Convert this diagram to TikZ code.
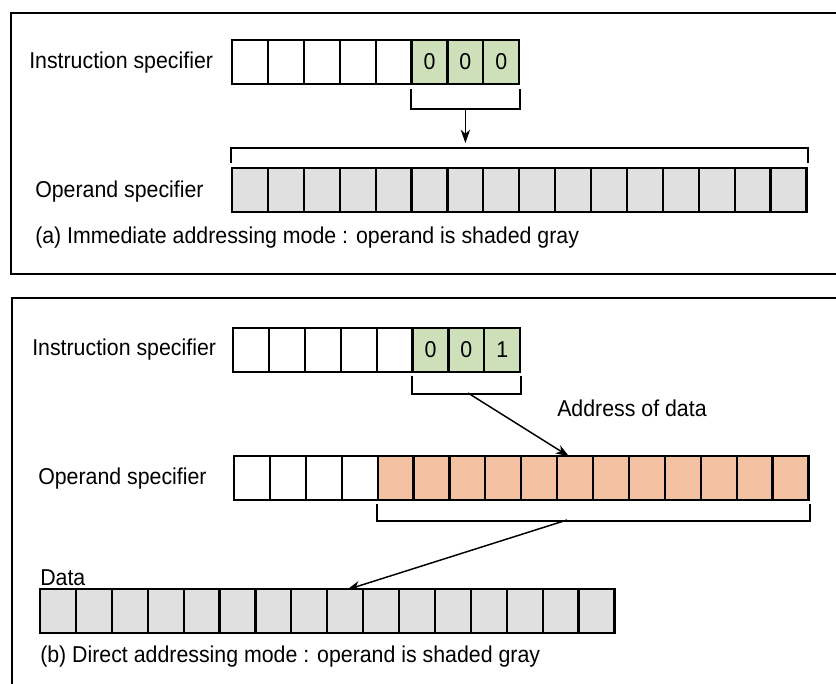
\documentclass[tikz,border=0pt]{standalone}
\usepackage{fontspec}
\setmainfont{Liberation Sans}[FakeStretch=0.93]
\usetikzlibrary{backgrounds,arrows.meta}
\pgfdeclarelayer{edgelayer}
\pgfdeclarelayer{nodelayer}
\pgfsetlayers{edgelayer,nodelayer,main}
\definecolor{bitgreen}{RGB}{206,224,186}
\definecolor{bitorange}{RGB}{243,194,162}
\definecolor{bitgray}{RGB}{224,224,224}
\tikzset{font=\fontsize{17.2}{20}\selectfont}
\tikzstyle{none}=[inner sep=0pt]
\tikzstyle{cell}=[rectangle,draw,line width=1.6pt,minimum width=26.9pt,minimum height=33pt,inner sep=0pt]
\tikzstyle{wcell}=[cell,fill=white]
\tikzstyle{gcell}=[cell,fill=bitgreen]
\tikzstyle{ocell}=[cell,fill=bitorange]
\tikzstyle{dcell}=[cell,fill=bitgray]
\tikzstyle{plain}=[inner sep=0pt,anchor=west]
\tikzstyle{bracket}=[line width=1.5pt]
\tikzstyle{pointer}=[line width=1.1pt,-{Stealth[length=10pt,width=7pt,inset=3pt]}]
\tikzstyle{frame}=[line width=1.3pt]

\begin{document}
\begin{tikzpicture}[x=0.75pt,y=-0.75pt]
	\useasboundingbox (0,0) rectangle (836,684);
	\begin{pgfonlayer}{nodelayer}
		% (a) immediate
		\node [style=wcell] (0) at (250, 62) {};
		\node [style=wcell] (1) at (285.9, 62) {};
		\node [style=wcell] (2) at (321.8, 62) {};
		\node [style=wcell] (3) at (357.7, 62) {};
		\node [style=wcell] (4) at (393.6, 62) {};
		\node [style=gcell] (5) at (429.5, 62) {0};
		\node [style=gcell] (6) at (465.4, 62) {0};
		\node [style=gcell] (7) at (501.3, 62) {0};
		\node [style=dcell] (8) at (250, 190) {};
		\node [style=dcell] (9) at (285.9, 190) {};
		\node [style=dcell] (10) at (321.8, 190) {};
		\node [style=dcell] (11) at (357.7, 190) {};
		\node [style=dcell] (12) at (393.6, 190) {};
		\node [style=dcell] (13) at (429.5, 190) {};
		\node [style=dcell] (14) at (465.4, 190) {};
		\node [style=dcell] (15) at (501.3, 190) {};
		\node [style=dcell] (16) at (537.2, 190) {};
		\node [style=dcell] (17) at (573.1, 190) {};
		\node [style=dcell] (18) at (609, 190) {};
		\node [style=dcell] (19) at (644.9, 190) {};
		\node [style=dcell] (20) at (680.8, 190) {};
		\node [style=dcell] (21) at (716.7, 190) {};
		\node [style=dcell] (22) at (752.6, 190) {};
		\node [style=dcell] (23) at (788.5, 190) {};
		\node [style=plain] (24) at (29, 63) {Instruction specifier};
		\node [style=plain] (25) at (35, 192) {Operand specifier};
		\node [style=plain] (26) at (35, 238) {(a) Immediate addressing mode : operand is shaded gray};
		\node [style=none] (27) at (465.4, 108) {};
		\node [style=none] (28) at (465.4, 144) {};
		% (b) direct
		\node [style=wcell] (29) at (251, 350) {};
		\node [style=wcell] (30) at (286.9, 350) {};
		\node [style=wcell] (31) at (322.8, 350) {};
		\node [style=wcell] (32) at (358.7, 350) {};
		\node [style=wcell] (33) at (394.6, 350) {};
		\node [style=gcell] (34) at (430.5, 350) {0};
		\node [style=gcell] (35) at (466.4, 350) {0};
		\node [style=gcell] (36) at (502.3, 350) {1};
		\node [style=wcell] (37) at (252, 478) {};
		\node [style=wcell] (38) at (287.9, 478) {};
		\node [style=wcell] (39) at (323.8, 478) {};
		\node [style=wcell] (40) at (359.7, 478) {};
		\node [style=ocell] (41) at (395.6, 478) {};
		\node [style=ocell] (42) at (431.5, 478) {};
		\node [style=ocell] (43) at (467.4, 478) {};
		\node [style=ocell] (44) at (503.3, 478) {};
		\node [style=ocell] (45) at (539.2, 478) {};
		\node [style=ocell] (46) at (575.1, 478) {};
		\node [style=ocell] (47) at (611, 478) {};
		\node [style=ocell] (48) at (646.9, 478) {};
		\node [style=ocell] (49) at (682.8, 478) {};
		\node [style=ocell] (50) at (718.7, 478) {};
		\node [style=ocell] (51) at (754.6, 478) {};
		\node [style=ocell] (52) at (790.5, 478) {};
		\node [style=dcell] (53) at (58, 611) {};
		\node [style=dcell] (54) at (93.9, 611) {};
		\node [style=dcell] (55) at (129.8, 611) {};
		\node [style=dcell] (56) at (165.7, 611) {};
		\node [style=dcell] (57) at (201.6, 611) {};
		\node [style=dcell] (58) at (237.5, 611) {};
		\node [style=dcell] (59) at (273.4, 611) {};
		\node [style=dcell] (60) at (309.3, 611) {};
		\node [style=dcell] (61) at (345.2, 611) {};
		\node [style=dcell] (62) at (381.1, 611) {};
		\node [style=dcell] (63) at (417, 611) {};
		\node [style=dcell] (64) at (452.9, 611) {};
		\node [style=dcell] (65) at (488.8, 611) {};
		\node [style=dcell] (66) at (524.7, 611) {};
		\node [style=dcell] (67) at (560.6, 611) {};
		\node [style=dcell] (68) at (596.5, 611) {};
		\node [style=plain] (69) at (32, 350) {Instruction specifier};
		\node [style=plain] (70) at (38, 479) {Operand specifier};
		\node [style=plain] (71) at (557, 408) {Address of data};
		\node [style=plain] (72) at (40, 578) {Data};
		\node [style=plain] (73) at (40, 657) {(b) Direct addressing mode : operand is shaded gray};
		\node [style=none] (74) at (468, 393) {};
		\node [style=none] (75) at (570, 457) {};
		\node [style=none] (76) at (567, 520) {};
		\node [style=none] (77) at (346, 590) {};
	\end{pgfonlayer}
	\begin{pgfonlayer}{edgelayer}
		\draw [style=frame] (836, 13) -- (11, 13) -- (11, 274) -- (836, 274);
		\draw [style=frame] (836, 298) -- (12, 298) -- (12, 684);
		\draw [style=bracket] ([yshift=-3pt]5.south west) -- ++(0, 20) -| ([yshift=-3pt]7.south east);
		\draw [style=bracket] ([yshift=3pt]8.north west) -- ++(0, -15) -| ([yshift=3pt]23.north east);
		\draw [style=pointer] (27.center) to (28);
		\draw [style=bracket] ([yshift=-2pt]34.south west) -- ++(0, 18) -| ([yshift=-2pt]36.south east);
		\draw [style=bracket] ([yshift=-2pt]41.south west) -- ++(0, 17) -| ([yshift=-2pt]52.south east);
		\draw [style=pointer] (74.center) to (75);
		\draw [style=pointer] (76.center) to (77);
	\end{pgfonlayer}
\end{tikzpicture}
\end{document}
